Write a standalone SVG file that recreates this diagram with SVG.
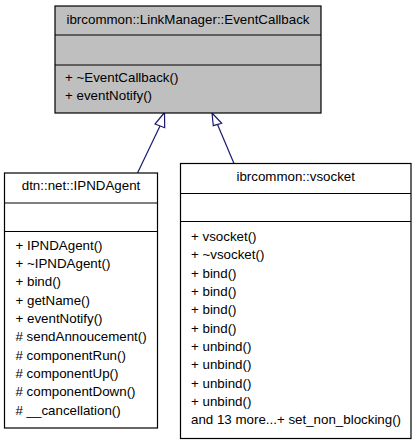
<svg xmlns="http://www.w3.org/2000/svg" width="416" height="445" viewBox="0 0 416 445">
<style>
text{font-family:"Liberation Sans",Arial,Helvetica,sans-serif;font-size:13.33px;fill:#000}
.t{text-anchor:middle}
.box{stroke:#000;stroke-width:1.2;fill:#fff}
.base{fill:#bfbfbf}
.sep{stroke:#000;stroke-width:1.2}
.edge{stroke:#191970;stroke-width:1.2;fill:none}
.head{stroke:#191970;stroke-width:1.2;fill:#fff}
</style>
<rect width="416" height="445" fill="#fff"/>
<g id="connectors">
<line class="edge" x1="137.5" y1="173" x2="160" y2="126"/>
<polygon class="head" points="164.5,112.5 155,124 164.7,127.7"/>
<line class="edge" x1="234" y1="163.5" x2="217.5" y2="124.5"/>
<polygon class="head" points="212,113 213.3,125.7 221.7,123.3"/>
</g>
<g id="EventCallback">
<rect class="box base" x="55" y="6" width="266" height="107"/>
<line class="sep" x1="55" y1="35" x2="321" y2="35"/>
<line class="sep" x1="55" y1="65" x2="321" y2="65"/>
<text class="t" x="188" y="24">ibrcommon::LinkManager::EventCallback</text>
<text x="65" y="82">+ ~EventCallback()</text>
<text x="65" y="100.3">+ eventNotify()</text>
</g>
<g id="IPNDAgent">
<rect class="box" x="4.5" y="173" width="153" height="255"/>
<line class="sep" x1="4.5" y1="203" x2="157.5" y2="203"/>
<line class="sep" x1="4.5" y1="231.5" x2="157.5" y2="231.5"/>
<text class="t" x="81" y="190">dtn::net::IPNDAgent</text>
<text x="15.5" y="249.5">+ IPNDAgent()</text>
<text x="15.5" y="267.8">+ ~IPNDAgent()</text>
<text x="15.5" y="286.2">+ bind()</text>
<text x="15.5" y="304.5">+ getName()</text>
<text x="15.5" y="322.8">+ eventNotify()</text>
<text x="15.5" y="341.2"># sendAnnoucement()</text>
<text x="15.5" y="359.5"># componentRun()</text>
<text x="15.5" y="377.8"># componentUp()</text>
<text x="15.5" y="396.2"># componentDown()</text>
<text x="15.5" y="414.5"># __cancellation()</text>
</g>
<g id="vsocket">
<rect class="box" x="180.5" y="163.5" width="230.5" height="275"/>
<line class="sep" x1="180.5" y1="193.5" x2="411" y2="193.5"/>
<line class="sep" x1="180.5" y1="221.5" x2="411" y2="221.5"/>
<text class="t" x="295.7" y="180.7">ibrcommon::vsocket</text>
<text x="191" y="241">+ vsocket()</text>
<text x="191" y="259.3">+ ~vsocket()</text>
<text x="191" y="277.7">+ bind()</text>
<text x="191" y="296">+ bind()</text>
<text x="191" y="314.3">+ bind()</text>
<text x="191" y="332.7">+ bind()</text>
<text x="191" y="351">+ unbind()</text>
<text x="191" y="369.3">+ unbind()</text>
<text x="191" y="387.7">+ unbind()</text>
<text x="191" y="406">+ unbind()</text>
<text x="191" y="424.3">and 13 more...+ set_non_blocking()</text>
</g>
</svg>
